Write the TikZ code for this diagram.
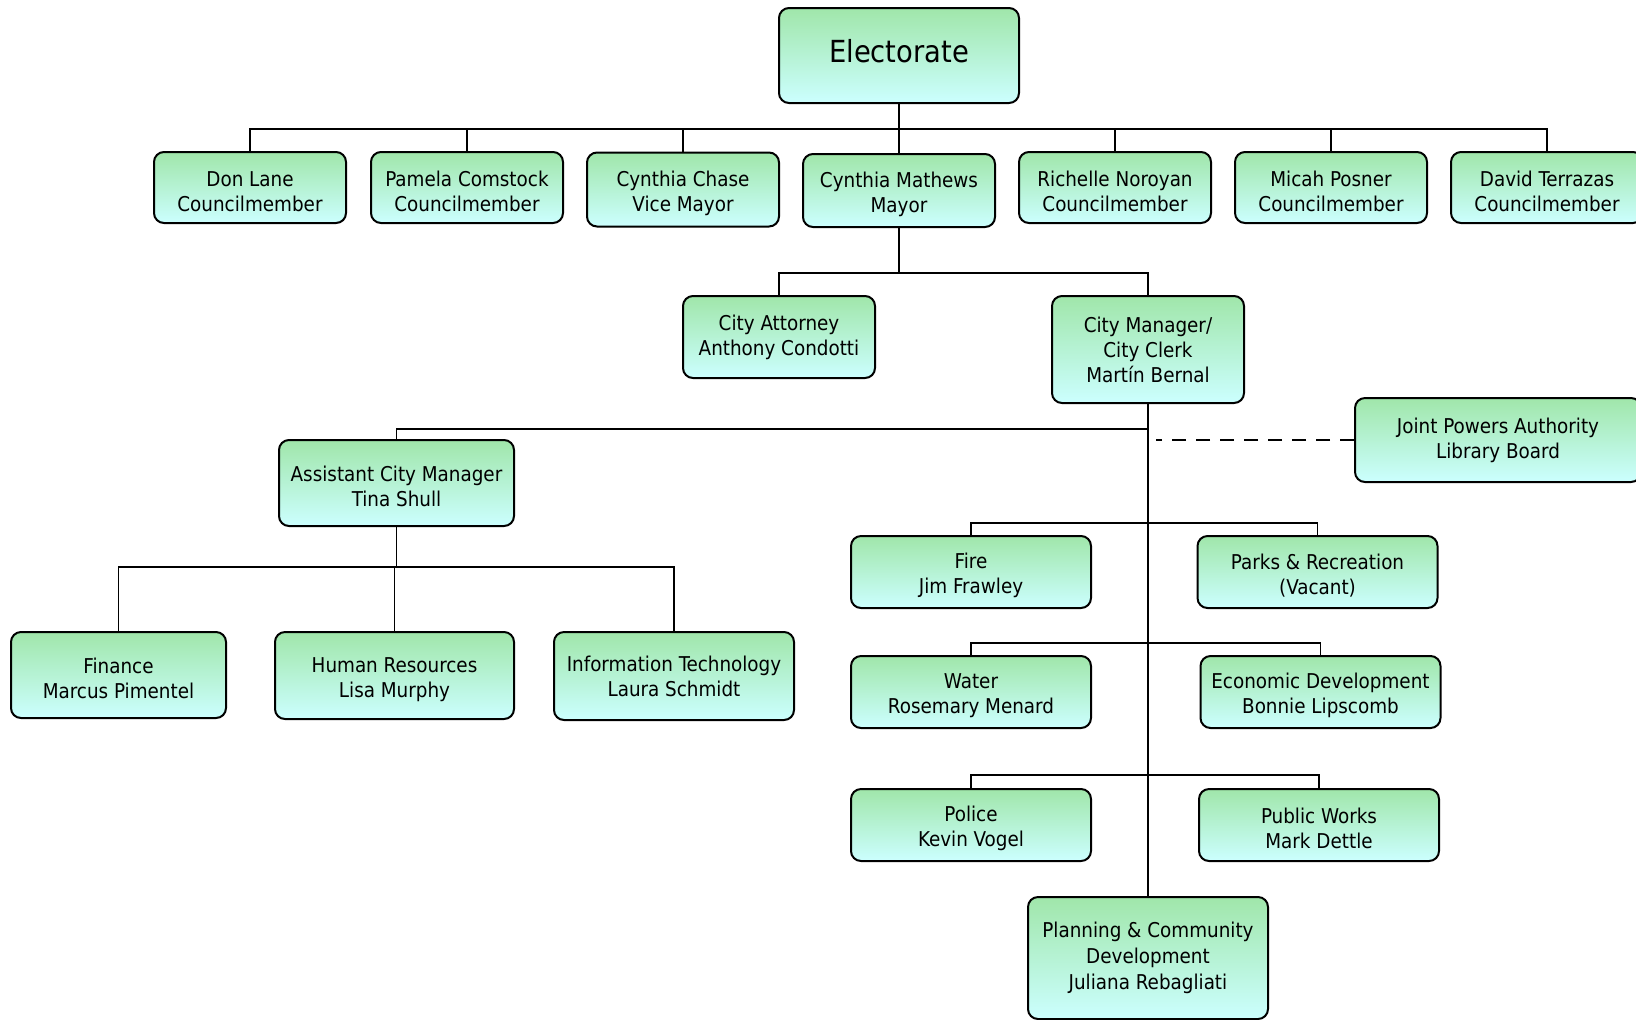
\documentclass[tikz,border=0pt]{standalone}
\usepackage{fontspec}
\setmainfont{DejaVu Sans Condensed}
\usetikzlibrary{positioning, calc}
\definecolor{boxtop}{RGB}{160,230,170}
\definecolor{boxbottom}{RGB}{204,255,255}
\tikzset{
    unit/.style={draw, line width=1pt, rounded corners=5pt, top color=boxtop, bottom color=boxbottom,
        align=center, inner sep=2pt, font=\fontsize{10.2}{12.5}\selectfont,
        minimum width=96pt, minimum height=35.5pt}, % every box of the chart
    low/.style={text height=23.9pt}, % two lines sitting a bit lower in the box
    dept/.style={unit, low, minimum width=120pt, minimum height=36pt}, % department boxes
    link/.style={line width=0.9pt}, % the connecting lines
}

\begin{document}
\begin{tikzpicture}[x=0.5pt, y=-0.5pt]
    \useasboundingbox (0,0) rectangle (1636,1019);
    % Boxes
    \node[unit, minimum width=120pt, minimum height=47.5pt, text depth=5pt, font=\fontsize{15.2}{18}\selectfont] (elect) at (899,55.5) {Electorate};
    \node[unit, low] (lane) at (250,187.5) {Don Lane\\Councilmember};
    \node[unit, low] (comstock) at (467,187.5) {Pamela Comstock\\Councilmember};
    \node[unit, low, minimum height=37pt] (chase) at (683,189.5) {Cynthia Chase\\Vice Mayor};
    \node[unit, low, minimum height=36.5pt] (mathews) at (899,190.5) {Cynthia Mathews\\Mayor};
    \node[unit, low] (noroyan) at (1115,187.5) {Richelle Noroyan\\Councilmember};
    \node[unit, low] (posner) at (1331,187.5) {Micah Posner\\Councilmember};
    \node[unit, low] (terrazas) at (1547,187.5) {David Terrazas\\Councilmember};
    \node[unit, minimum height=41pt] (attorney) at (779,337) {City Attorney\\Anthony Condotti};
    \node[unit, minimum height=53.5pt] (manager) at (1148,349.5) {City Manager/\\City Clerk\\Mart\'in Bernal};
    \node[unit, minimum width=143pt, minimum height=42pt] (jpa) at (1498,440) {Joint Powers Authority\\Library Board};
    \node[unit, low, minimum width=117.5pt, minimum height=43pt] (acm) at (396.5,483) {Assistant City Manager\\Tina Shull};
    \node[unit, low, minimum width=107.5pt, minimum height=43pt] (finance) at (118.5,675) {Finance\\Marcus Pimentel};
    \node[unit, low, minimum width=119.5pt, minimum height=43.5pt] (hr) at (394.5,675.5) {Human Resources\\Lisa Murphy};
    \node[unit, minimum width=120pt, minimum height=44pt] (it) at (674,676) {Information Technology\\Laura Schmidt};
    \node[dept] (fire) at (971,572) {Fire\\Jim Frawley};
    \node[dept] (parks) at (1317.5,572) {Parks \& Recreation\\(Vacant)};
    \node[dept] (water) at (971,692) {Water\\Rosemary Menard};
    \node[dept] (econ) at (1320.5,692) {Economic Development\\Bonnie Lipscomb};
    \node[dept] (police) at (971,825) {Police\\Kevin Vogel};
    \node[dept] (works) at (1319,825) {Public Works\\Mark Dettle};
    \node[unit, minimum width=120pt, minimum height=61pt, font=\fontsize{10.2}{13}\selectfont] (planning) at (1148,958) {Planning \& Community\\Development\\Juliana Rebagliati};

    % Lines
    \foreach \n in {lane,comstock,chase,mathews,noroyan,posner,terrazas}
        \draw[link] (elect.south) -- ++(0,25) -| (\n.north);
    \foreach \n in {attorney,manager}
        \draw[link] (mathews.south) -- ++(0,45) -| (\n.north);
    \draw[link] (manager.south) -- (planning.north);
    \draw[link] (manager.south) -- ++(0,25) -| (acm.north);
    \draw[link, dashed, dash pattern=on 7pt off 5pt, shorten >=4pt] (jpa.west) -- (jpa.west -| manager.south);
    \foreach \n in {finance,hr,it}
        \draw[link] (acm.south) -- ++(0,40) -| (\n.north);
    \draw[link] (fire.north) -- ++(0,-12) -| (parks.north);
    \draw[link] (water.north) -- ++(0,-12) -| (econ.north);
    \draw[link] (police.north) -- ++(0,-13) -| (works.north);
\end{tikzpicture}
\end{document}
